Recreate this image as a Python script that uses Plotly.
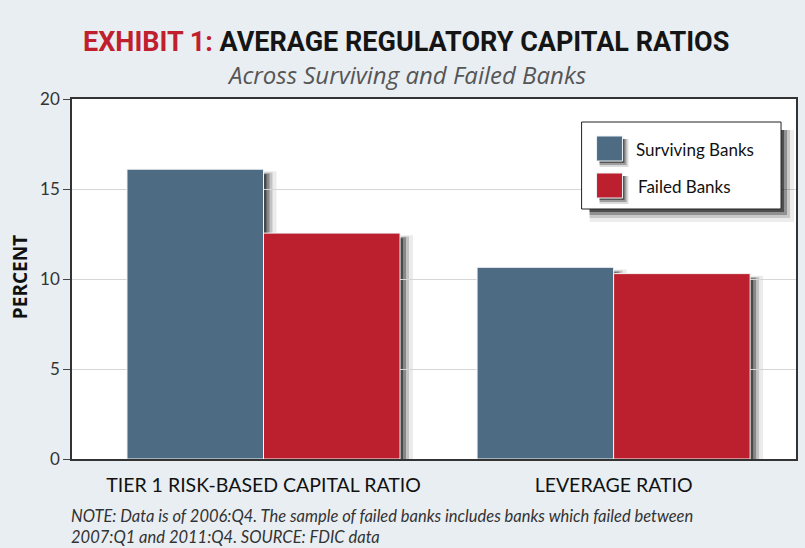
import plotly.graph_objects as go

categories = ["TIER 1 RISK-BASED CAPITAL RATIO", "LEVERAGE RATIO"]
surviving = [16.1, 10.65]
failed = [12.55, 10.3]
series_names = ["Surviving Banks", "Failed Banks"]
y_ticks = [0, 5, 10, 15, 20]

BLUE = "#4d6b82"
RED = "#bc1f2e"
BG = "#e9eef2"

# plot area in pixels
L, R, T, B = 72, 798, 99, 459
W, H = 805, 548

def px(x):
    return (x - L) / (R - L)

def py(y):
    return (B - y) / (B - T)

xs = list(range(len(categories)))
bargap = 0.22
bw = (1 - bargap) / 2
xrange_ = [-0.547, 1.521]
upx = (xrange_[1] - xrange_[0]) / (R - L)   # x units per pixel
vpx = 20.0 / (B - T)                         # y units per pixel

fig = go.Figure()
fig.add_trace(go.Bar(x=xs, y=surviving, name=series_names[0],
                     marker=dict(color=BLUE, line=dict(color="#f4f6f8", width=1)), showlegend=False))
fig.add_trace(go.Bar(x=xs, y=failed, name=series_names[1],
                     marker=dict(color=RED, line=dict(color="#f4f6f8", width=1)), showlegend=False))

shapes = []
# soft bar shadows (derived from data)
for vals, off in ((surviving, -bw / 2), (failed, bw / 2)):
    for xi, v in zip(xs, vals):
        left = xi + off - bw / 2
        right = xi + off + bw / 2
        for d, op in ((3, 0.45), (6, 0.30), (9, 0.17), (13, 0.08)):
            shapes.append(dict(type="rect", xref="x", yref="y", layer="below",
                               x0=left + 6 * upx, x1=right + d * upx,
                               y0=0, y1=v - (6 - d * 0.3) * vpx,
                               fillcolor="black", opacity=op, line=dict(width=0)))

# legend box with shadow
lx0, ly0, lx1, ly1 = 583, 122, 783, 209
for d, op in ((3, 0.45), (6, 0.28), (9, 0.15), (13, 0.07)):
    shapes.append(dict(type="rect", xref="paper", yref="paper", layer="above",
                       x0=px(lx0 + 8), x1=px(lx1 + d), y0=py(ly1 + d), y1=py(ly0 + 8),
                       fillcolor="black", opacity=op, line=dict(width=0)))
shapes.append(dict(type="rect", xref="paper", yref="paper", layer="above",
                   x0=px(lx0), x1=px(lx1), y0=py(ly1), y1=py(ly0),
                   fillcolor="white", line=dict(color="#222", width=1)))
sw = [(598, 136, 624, 161, BLUE), (598, 173, 624, 198, RED)]
for x0, y0, x1, y1, c in sw:
    for d, op in ((2, 0.45), (4, 0.28), (6, 0.14)):
        shapes.append(dict(type="rect", xref="paper", yref="paper", layer="above",
                           x0=px(x0 + 3), x1=px(x1 + d), y0=py(y1 + d), y1=py(y0 + 3),
                           fillcolor="black", opacity=op, line=dict(width=0)))
    shapes.append(dict(type="rect", xref="paper", yref="paper", layer="above",
                       x0=px(x0), x1=px(x1), y0=py(y1), y1=py(y0),
                       fillcolor=c, line=dict(color="#eef2f5", width=1)))

font_body = "Lato, Open Sans, sans-serif"
annotations = [
    dict(text=series_names[0], x=px(636), y=py(149), xref="paper", yref="paper",
         xanchor="left", yanchor="middle", showarrow=False,
         font=dict(family=font_body, size=17, color="#111")),
    dict(text=series_names[1], x=px(638), y=py(186), xref="paper", yref="paper",
         xanchor="left", yanchor="middle", showarrow=False,
         font=dict(family=font_body, size=17, color="#111")),
    dict(text="<span style='color:#c0202e'>EXHIBIT 1:</span> AVERAGE REGULATORY CAPITAL RATIOS",
         x=px(407), y=py(42), xref="paper", yref="paper", xanchor="center", yanchor="middle",
         showarrow=False,
         font=dict(family="Roboto, sans-serif", size=27, weight=700, color="#151515")),
    dict(text="<i>Across Surviving and Failed Banks</i>", x=px(407), y=py(74), xref="paper", yref="paper",
         xanchor="center", yanchor="middle", showarrow=False,
         font=dict(family="Open Sans, sans-serif", size=24, color="#555")),
    dict(text="<b>PERCENT</b>", x=px(20), y=py(277), xref="paper", yref="paper", textangle=-90,
         xanchor="center", yanchor="middle", showarrow=False,
         font=dict(family="Open Sans, sans-serif", size=19, color="#111")),
    dict(text="<i>NOTE: Data is of 2006:Q4. The sample of failed banks includes banks which failed between"
              "<br>2007:Q1 and 2011:Q4. SOURCE: FDIC data</i>",
         x=px(69), y=py(526), xref="paper", yref="paper", xanchor="left", yanchor="middle", align="left",
         showarrow=False, font=dict(family="Lato, sans-serif", size=16.5, color="#333")),
]

fig.update_layout(
    width=W, height=H,
    margin=dict(l=L, r=W - R, t=T, b=H - B, pad=0),
    paper_bgcolor=BG, plot_bgcolor="white",
    barmode="group", bargap=bargap, bargroupgap=0,
    shapes=shapes, annotations=annotations,
    showlegend=False,
    xaxis=dict(tickvals=xs, ticktext=categories, range=xrange_,
               showgrid=False, showline=True, linecolor="#333", linewidth=1.5, mirror=True,
               ticks="", ticklabelstandoff=8,
               tickfont=dict(family=font_body, size=19.5, color="#111"),
               zeroline=False),
    yaxis=dict(range=[0, 20], tickvals=y_ticks, showgrid=True, gridcolor="#d6d6d6", gridwidth=1,
               showline=True, linecolor="#333", linewidth=1.5, mirror=True,
               ticks="outside", ticklen=7, tickcolor="#444",
               tickfont=dict(family=font_body, size=17, color="#333"), zeroline=False),
)

fig.write_html("out.html", config={"displayModeBar": False},
               post_script="document.body.style.margin='0px';")
